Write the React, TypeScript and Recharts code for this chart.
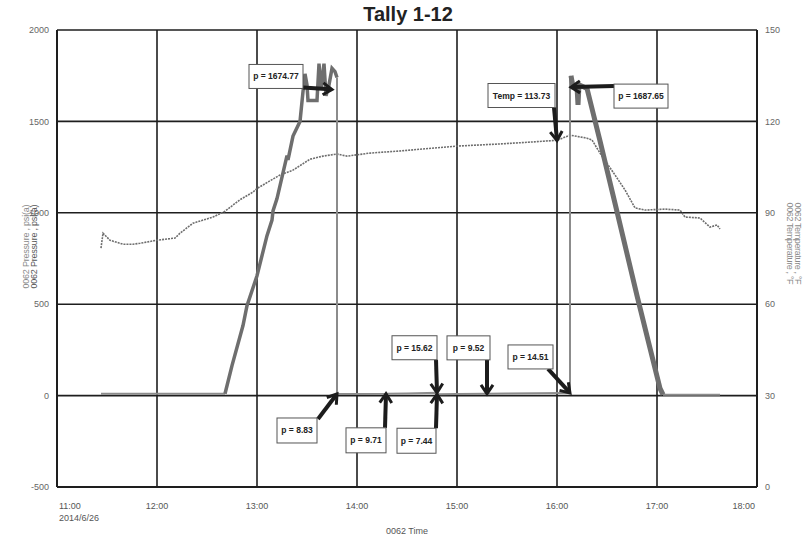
import React from 'react';
import { LineChart, Line, XAxis, YAxis, CartesianGrid, ReferenceDot } from 'recharts';

const chartTitle = 'Tally 1-12';
const timeTicks = [11, 12, 13, 14, 15, 16, 17, 18];
const timeTickLabels = ['11:00', '12:00', '13:00', '14:00', '15:00', '16:00', '17:00', '18:00'];
const dateLabel = '2014/6/26';
const xAxisTitle = '0062 Time';
const pressureTicks = [-500, 0, 500, 1000, 1500, 2000];
const tempTicks = [0, 30, 60, 90, 120, 150];
const pressureTitle = '0062 Pressure , psi(a)';
const tempTitle = '0062 Temperature , \u00b0F';

// pressure: thin baseline and vertical parts (null = gap)
const pressureThinTimes = [11.44, 12.68, null, 13.8, 13.8, 14.0, 14.29, 14.3, 14.5, 14.8, 14.81, 15.0, 15.3, 15.5, 15.8, 16.07, 16.13, 16.13, null, 17.06, 17.63];
const pressureThinValues = [10, 10, null, 1740, 8.83, 9, 9.71, 10, 12, 15.62, 7.44, 9, 9.52, 12, 13, 14.51, 14, 1750, null, 5, 5];
// pressure: rising ramp and first peak
const pressureRiseTimes = [12.68, 12.75, 12.86, 12.9, 13.0, 13.1, 13.15, 13.16, 13.2, 13.3, 13.31, 13.36, 13.43, 13.46, 13.48, 13.5, 13.51, 13.6, 13.62, 13.64, 13.67, 13.69, 13.72, 13.75, 13.78, 13.8];
const pressureRiseValues = [10, 164, 383, 492, 656, 875, 960, 1010, 1078, 1313, 1290, 1420, 1500, 1663, 1760, 1700, 1614, 1614, 1816, 1680, 1816, 1640, 1700, 1790, 1772, 1740];
// pressure: second peak and falling ramp
const pressureFallTimes = [16.14, 16.16, 16.2, 16.21, 16.22, 16.3, 16.43, 16.6, 16.8, 16.93, 17.03, 17.06];
const pressureFallValues = [1750, 1690, 1690, 1590, 1700, 1680, 1393, 1006, 547, 260, 40, 5];
// temperature
const tempTimes = [11.44, 11.46, 11.53, 11.66, 11.76, 11.83, 12.0, 12.18, 12.23, 12.36, 12.56, 12.68, 12.83, 12.96, 13.0, 13.23, 13.36, 13.53, 13.66, 13.8, 13.9, 14.13, 14.43, 15.0, 15.43, 15.73, 16.0, 16.13, 16.23, 16.3, 16.35, 16.43, 16.58, 16.68, 16.78, 16.88, 17.08, 17.23, 17.28, 17.43, 17.53, 17.6, 17.63];
const tempValues = [78.4, 83.3, 81, 79.7, 79.7, 80, 81, 81.7, 83.3, 86.6, 88.6, 90.5, 94.3, 96.8, 98, 102.4, 104, 107.6, 108.6, 109.3, 108.6, 109.6, 110.3, 111.9, 112.6, 113.2, 113.8, 115.5, 114.9, 114.5, 113.9, 109.6, 102.4, 97.5, 91.6, 90.9, 91.2, 90.9, 88.6, 88.3, 85.3, 86, 84.7];

// annotations (anchor time, value, axis, text)
const annotationTimes = [13.75, 16.0, 16.14, 13.8, 14.29, 14.8, 14.8, 15.3, 16.13];
const annotationValues = [1674.77, 113.73, 1687.65, 8.83, 9.71, 7.44, 15.62, 9.52, 14.51];
const annotationAxes = ['p', 't', 'p', 'p', 'p', 'p', 'p', 'p', 'p'];
const annotationTexts = ['p = 1674.77', 'Temp = 113.73', 'p = 1687.65', 'p = 8.83', 'p = 9.71', 'p = 7.44', 'p = 15.62', 'p = 9.52', 'p = 14.51'];

// layout of annotation boxes relative to anchor (pixels): box dx, dy, w, h, tail dx, dy
const annotationLayout = [
  { bx: -83, by: -25, bw: 54, bh: 24, tx: -29, ty: -2 },
  { bx: -69, by: -57, bw: 67, bh: 24, tx: -3, ty: -33 },
  { bx: 43, by: -3, bw: 54, bh: 24, tx: 43, ty: -1 },
  { bx: -60, by: 24, bw: 40, bh: 25, tx: -19, ty: 25 },
  { bx: -40, by: 34, bw: 40, bh: 25, tx: -1, ty: 34 },
  { bx: -40, by: 34, bw: 39, bh: 25, tx: -1, ty: 34 },
  { bx: -45, by: -57, bw: 45, bh: 24, tx: -1, ty: -33 },
  { bx: -40, by: -58, bw: 43, bh: 24, tx: 0, ty: -34 },
  { bx: -62, by: -48, bw: 45, bh: 24, tx: -22, ty: -24 },
];

const zip = (ts: (number | null)[], vs: (number | null)[], key: string) =>
  ts.map((t, i) => ({ t, [key]: vs[i] }));

const pressureThin = zip(pressureThinTimes, pressureThinValues, 'p');
const pressureRise = zip(pressureRiseTimes, pressureRiseValues, 'p');
const pressureFall = zip(pressureFallTimes, pressureFallValues, 'p');
const temperature = zip(tempTimes, tempValues, 'temp');

const FONT = "'Liberation Sans Narrow', 'Arial Narrow', 'Liberation Sans', Arial, sans-serif";
const BOLDFONT = "'Liberation Sans', Arial, sans-serif";

const Arrow = ({ x1, y1, x2, y2 }: { x1: number; y1: number; x2: number; y2: number }) => {
  const dx = x2 - x1;
  const dy = y2 - y1;
  const len = Math.sqrt(dx * dx + dy * dy) || 1;
  const ux = dx / len;
  const uy = dy / len;
  const px = -uy;
  const py = ux;
  const hx = x2 - ux * 9;
  const hy = y2 - uy * 9;
  return (
    <g>
      <line x1={x1} y1={y1} x2={x2 - ux * 2} y2={y2 - uy * 2} stroke="#1c1c1c" strokeWidth={4} />
      <polyline
        points={`${hx + px * 6},${hy + py * 6} ${x2},${y2} ${hx - px * 6},${hy - py * 6}`}
        fill="none"
        stroke="#1c1c1c"
        strokeWidth={3}
      />
    </g>
  );
};

const makeAnnotation = (i: number) => (props: any) => {
  const { cx, cy } = props;
  if (cx == null || cy == null) return <g />;
  const l = annotationLayout[i];
  return (
    <g>
      <Arrow x1={cx + l.tx} y1={cy + l.ty} x2={cx} y2={cy} />
      <rect x={cx + l.bx} y={cy + l.by} width={l.bw} height={l.bh} fill="#fff" stroke="#555" strokeWidth={1} />
      <text
        x={cx + l.bx + l.bw / 2}
        y={cy + l.by + l.bh / 2 + 3}
        textAnchor="middle"
        fontFamily={BOLDFONT}
        fontWeight="bold"
        fontSize={8.5}
        fill="#222"
      >
        {annotationTexts[i]}
      </text>
    </g>
  );
};

const XTick = (props: any) => {
  const { x, y, index } = props;
  const last = timeTicks.length - 1;
  const anchor = index === 0 ? 'start' : index === last ? 'end' : 'middle';
  const xx = index === 0 ? x + 2 : index === last ? x - 2 : x;
  return (
    <g>
      <text x={xx} y={y + 22} textAnchor={anchor} fontFamily={FONT} fontSize={9} fill="#555">
        {timeTickLabels[index]}
      </text>
      {index === 0 && (
        <text x={xx} y={y + 34} textAnchor="start" fontFamily={FONT} fontSize={9} fill="#555">
          {dateLabel}
        </text>
      )}
    </g>
  );
};

const LeftTitle = (props: any) => {
  const { viewBox } = props;
  const cy = viewBox.y + viewBox.height / 2 - 12;
  return (
    <g>
      <text transform={`translate(29, ${cy}) rotate(-90)`} textAnchor="middle" fontFamily={FONT} fontSize={9} fill="#8a8a8a" textLength={84} lengthAdjust="spacing">
        {pressureTitle}
      </text>
      <text transform={`translate(37, ${cy}) rotate(-90)`} textAnchor="middle" fontFamily={FONT} fontSize={9} fill="#555" textLength={84} lengthAdjust="spacing">
        {pressureTitle}
      </text>
    </g>
  );
};

const RightTitle = (props: any) => {
  const { viewBox } = props;
  const cy = viewBox.y + viewBox.height / 2 - 15;
  return (
    <g>
      <text transform={`translate(787, ${cy}) rotate(90)`} textAnchor="middle" fontFamily={FONT} fontSize={9} fill="#8a8a8a" textLength={82} lengthAdjust="spacing">
        {tempTitle}
      </text>
      <text transform={`translate(795, ${cy}) rotate(90)`} textAnchor="middle" fontFamily={FONT} fontSize={9} fill="#8a8a8a" textLength={82} lengthAdjust="spacing">
        {tempTitle}
      </text>
    </g>
  );
};

const XTitle = (props: any) => {
  const { viewBox } = props;
  return (
    <text x={viewBox.x + viewBox.width / 2} y={534} textAnchor="middle" fontFamily={FONT} fontSize={9} fill="#555">
      {xAxisTitle}
    </text>
  );
};

export default function App() {
  return (
    <div style={{ position: 'absolute', left: 0, top: 0, width: 809, height: 539, background: '#fff' }}>
      <div
        style={{
          position: 'absolute',
          left: 0,
          top: 2,
          width: 816,
          textAlign: 'center',
          fontFamily: FONT,
          fontWeight: 'bold',
          fontSize: 20,
          color: '#222',
          lineHeight: '24px',
        }}
      >
        {chartTitle}
      </div>
      <LineChart width={809} height={539} margin={{ top: 30, right: 0, bottom: 0, left: 0 }}>
        <CartesianGrid xAxisId="x" yAxisId="p" stroke="#1e1e1e" strokeWidth={1.6} />
        <XAxis
          xAxisId="x"
          dataKey="t"
          type="number"
          domain={[11, 18]}
          ticks={timeTicks}
          allowDataOverflow
          height={52}
          tickSize={0}
          tickMargin={0}
          tickLine={false}
          axisLine={{ stroke: '#1e1e1e', strokeWidth: 2 }}
          tick={<XTick />}
          interval={0}
          label={{ content: <XTitle /> }}
        />
        <YAxis
          yAxisId="p"
          orientation="left"
          type="number"
          domain={[-500, 2000]}
          ticks={pressureTicks}
          allowDataOverflow
          width={57}
          tickSize={0}
          tickMargin={8}
          tickLine={false}
          axisLine={{ stroke: '#1e1e1e', strokeWidth: 2 }}
          tick={{ fill: '#666', fontSize: 9, fontFamily: FONT }}
          interval={0}
          label={{ content: <LeftTitle /> }}
        />
        <YAxis
          yAxisId="t"
          orientation="right"
          type="number"
          domain={[0, 150]}
          ticks={tempTicks}
          allowDataOverflow
          width={52}
          tickSize={0}
          tickMargin={8}
          tickLine={false}
          axisLine={{ stroke: '#1e1e1e', strokeWidth: 2 }}
          tick={{ fill: '#666', fontSize: 9, fontFamily: FONT, textAnchor: 'start' }}
          interval={0}
          label={{ content: <RightTitle /> }}
        />
        <Line
          xAxisId="x"
          yAxisId="t"
          data={temperature}
          dataKey="temp"
          type="linear"
          stroke="#6e6e6e"
          strokeWidth={1.6}
          strokeDasharray="2 1"
          dot={false}
          isAnimationActive={false}
        />
        <Line
          xAxisId="x"
          yAxisId="p"
          data={pressureThin}
          dataKey="p"
          type="linear"
          stroke="#8c8c8c"
          strokeWidth={2}
          dot={false}
          connectNulls={false}
          isAnimationActive={false}
        />
        <Line
          xAxisId="x"
          yAxisId="p"
          data={pressureRise}
          dataKey="p"
          type="linear"
          stroke="#6e6e6e"
          strokeWidth={3.5}
          dot={false}
          isAnimationActive={false}
        />
        <Line
          xAxisId="x"
          yAxisId="p"
          data={pressureFall}
          dataKey="p"
          type="linear"
          stroke="#6e6e6e"
          strokeWidth={5}
          dot={false}
          isAnimationActive={false}
        />
        {annotationTimes.map((t, i) => (
          <ReferenceDot
            key={i}
            xAxisId="x"
            yAxisId={annotationAxes[i]}
            x={t}
            y={annotationValues[i]}
            r={0}
            ifOverflow="visible"
            shape={makeAnnotation(i)}
          />
        ))}
      </LineChart>
    </div>
  );
}
